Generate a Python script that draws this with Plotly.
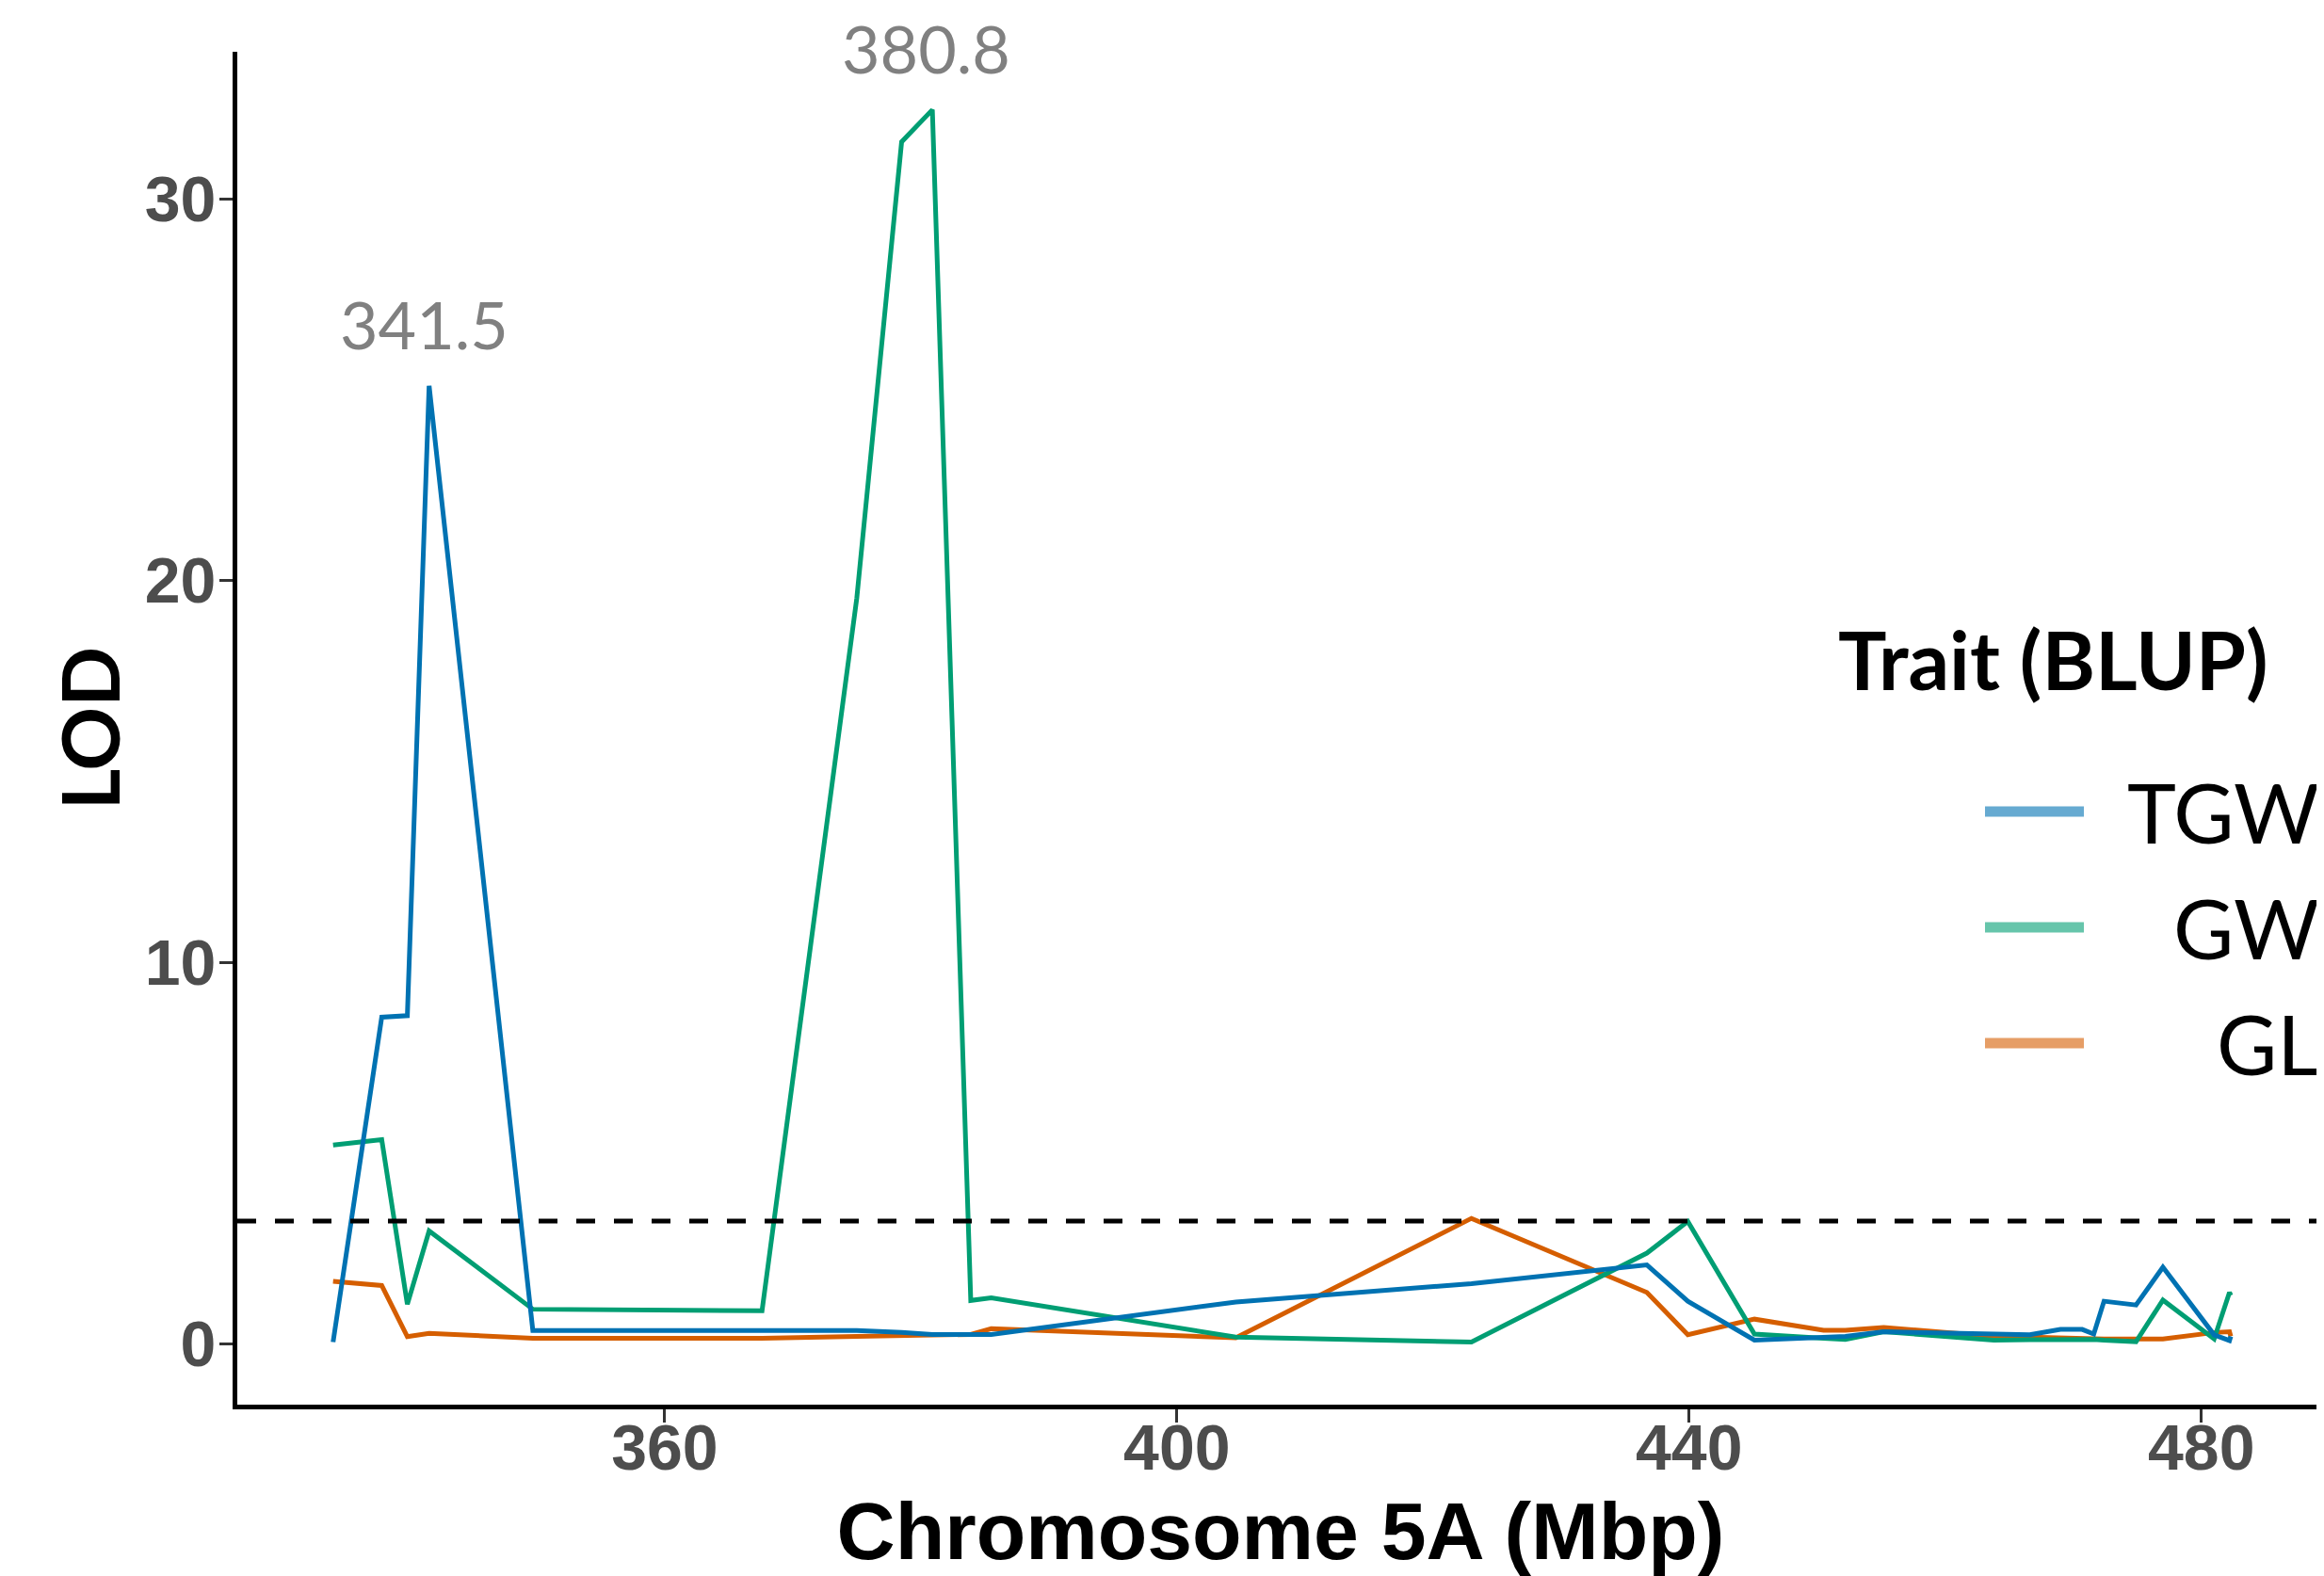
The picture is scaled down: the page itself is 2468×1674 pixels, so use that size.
import plotly.graph_objects as go

# ---------------- data ----------------
positions = [334.1, 337.9, 339.9, 341.6, 349.7, 367.6, 375.0, 378.5, 380.9, 383.9,
             385.5, 404.6, 423.0, 436.7, 439.9, 445.1, 450.5, 452.2, 455.2, 463.8,
             466.6, 469.0, 470.7, 471.6, 472.4, 474.9, 477.0, 481.0, 482.2, 482.3]

tgw = [0.05, 8.56, 8.6, 25.1, 0.35, 0.35, 0.35, 0.3, 0.25, 0.25,
       0.25, 1.1, 1.58, 2.07, 1.12, 0.1, 0.18, 0.2, 0.32, 0.26,
       0.24, 0.38, 0.38, 0.26, 1.12, 1.02, 2.01, 0.24, 0.09, 0.2]

gw = [5.21, 5.35, 1.04, 2.96, 0.91, 0.87, 19.54, 31.49, 32.33, 1.14,
      1.21, 0.18, 0.05, 2.38, 3.21, 0.26, 0.15, 0.12, 0.32, 0.1,
      0.11, 0.12, 0.13, 0.12, 0.1, 0.06, 1.15, 0.13, 1.35, 1.27]

gl = [1.64, 1.53, 0.19, 0.28, 0.15, 0.15, 0.2, 0.22, 0.25, 0.25,
      0.4, 0.16, 3.29, 1.35, 0.24, 0.65, 0.36, 0.36, 0.43, 0.2,
      0.18, 0.15, 0.13, 0.13, 0.13, 0.13, 0.13, 0.3, 0.32, 0.2]

trait_names = ["TGW", "GW", "GL"]
trait_colors = ["#0072B2", "#009E73", "#D55E00"]
legend_colors = ["rgba(0,114,178,0.6)", "rgba(0,158,115,0.6)", "rgba(213,94,0,0.6)"]

threshold = 3.22
peak_labels = ["341.5", "380.8"]
peak_label_x = [341.2, 380.4]
peak_label_y = [25.1, 32.33]   # labels sit above these peak heights

x_ticks = [360, 400, 440, 480]
y_ticks = [0, 10, 20, 30]
x_range = [326.62, 489.58]
y_range = [-1.59, 33.85]

# ---------------- figure ----------------
OFF = 8                      # page body margin offset
W, H = 2468 - OFF, 1674 - OFF
ML, MR, MT, MB = 252 - OFF, 0, 55 - OFF, 182
PW, PH = W - ML - MR, H - MT - MB

def px_to_paper_x(px):       # px in page coordinates
    return (px - OFF - ML) / PW

def px_to_paper_y(py):
    return (H - MB - (py - OFF)) / PH

series = {"TGW": tgw, "GW": gw, "GL": gl}

fig = go.Figure()
for name in ["GL", "GW", "TGW"]:
    i = trait_names.index(name)
    fig.add_trace(go.Scatter(
        x=positions, y=series[name], mode="lines", name=name,
        line=dict(color=trait_colors[i], width=5),
        showlegend=False,
    ))

fig.add_hline(y=threshold, line=dict(color="black", width=5, dash="20px,20px"))

futura = "Lato, 'Open Sans', sans-serif"
helv = "'Liberation Sans', Arial, sans-serif"

annotations = []
for lab, lx, ly in zip(peak_labels, peak_label_x, peak_label_y):
    annotations.append(dict(x=lx, y=ly, xref="x", yref="y", text=lab, showarrow=False,
                            font=dict(family=futura, size=70, color="#808080"),
                            xanchor="center", yanchor="middle", yshift=66))

annotations.append(dict(x=px_to_paper_x(2180), y=px_to_paper_y(699), xref="paper", yref="paper",
                        text="<b>Trait (BLUP)</b>", showarrow=False,
                        font=dict(family=futura, size=86, color="black"),
                        xanchor="center", yanchor="middle"))
shapes = []
legend_y = [862, 985, 1108]
for i, name in enumerate(trait_names):
    yp = px_to_paper_y(legend_y[i])
    shapes.append(dict(type="line", xref="paper", yref="paper",
                       x0=px_to_paper_x(2108), x1=px_to_paper_x(2213), y0=yp, y1=yp,
                       line=dict(color=legend_colors[i], width=11)))
    annotations.append(dict(x=px_to_paper_x(2465), y=yp, xref="paper", yref="paper",
                            text=name, showarrow=False,
                            font=dict(family=futura, size=88, color="black"),
                            xanchor="right", yanchor="middle"))

fig.update_layout(
    width=W, height=H,
    margin=dict(l=ML, r=MR, t=MT, b=MB, autoexpand=False),
    paper_bgcolor="white", plot_bgcolor="white",
    showlegend=False,
    annotations=annotations,
    shapes=list(fig.layout.shapes) + shapes,
)

fig.update_xaxes(
    range=x_range, tickvals=x_ticks, ticktext=[str(v) for v in x_ticks],
    showgrid=False, zeroline=False,
    showline=True, linecolor="black", linewidth=5,
    ticks="outside", ticklen=14, tickwidth=3, tickcolor="#333333",
    ticklabelstandoff=-32,
    tickfont=dict(family=helv, size=68, color="#4D4D4D", weight="bold"),
    title=dict(text="<b>Chromosome 5A (Mbp)</b>", standoff=50,
               font=dict(family=helv, size=86, color="black")),
    automargin=False,
)
fig.update_yaxes(
    range=y_range, tickvals=y_ticks, ticktext=[str(v) for v in y_ticks],
    showgrid=False, zeroline=False,
    showline=True, linecolor="black", linewidth=5,
    ticks="outside", ticklen=14, tickwidth=3, tickcolor="#333333",
    ticklabelstandoff=-10,
    tickfont=dict(family=helv, size=68, color="#4D4D4D", weight="bold"),
    title=dict(text="<b>LOD</b>", standoff=0,
               font=dict(family=futura, size=84, color="black")),
    automargin=False,
)

fig.write_html("out.html")
